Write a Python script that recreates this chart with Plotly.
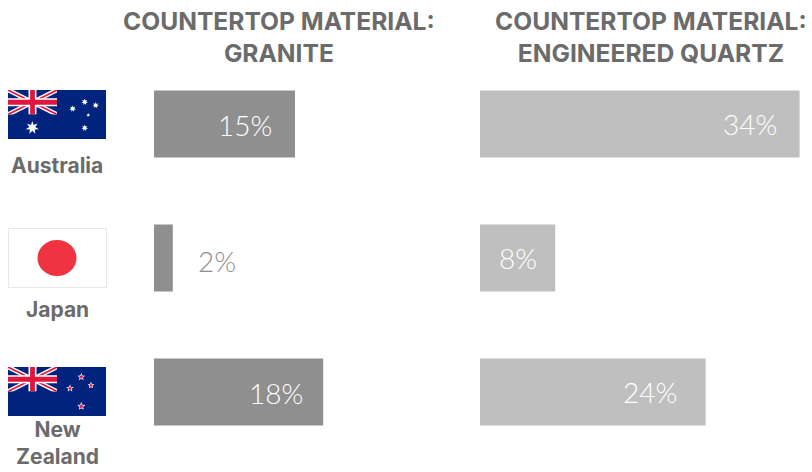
import base64
import math
import plotly.graph_objects as go

countries = ["Australia", "Japan", "New Zealand"]
country_lines = ["Australia", "Japan", "New<br>Zealand"]
granite = [15, 2, 18]
quartz = [34, 8, 24]
titles = ["COUNTERTOP MATERIAL:<br>GRANITE", "COUNTERTOP MATERIAL:<br>ENGINEERED QUARTZ"]

W, H = 812, 472
PX_PER_PCT = 9.4
GREY_DARK = "#8f8f8f"
GREY_LIGHT = "#bfbfbf"
TEXT = "#6b6b6b"
HEAD_FONT = "Inter, sans-serif"
NUM_FONT = "Lato Light, Lato, sans-serif"


def star(cx, cy, r, n, inner=0.45):
    pts = []
    for i in range(2 * n):
        rad = r if i % 2 == 0 else r * inner
        a = -math.pi / 2 + i * math.pi / n
        pts.append(f"{cx + rad * math.cos(a):.2f},{cy + rad * math.sin(a):.2f}")
    return " ".join(pts)


def union_jack():
    w, h = 49, 24.5
    return f"""
    <g><clipPath id="c"><rect width="{w}" height="{h}"/></clipPath><g clip-path="url(#c)">
    <rect width="{w}" height="{h}" fill="#00247d"/>
    <path d="M0,0L{w},{h}M{w},0L0,{h}" stroke="#fff" stroke-width="4.6"/>
    <path d="M0,0L{w},{h}M{w},0L0,{h}" stroke="#e0163f" stroke-width="1.6"/>
    <path d="M{w/2},0V{h}M0,{h/2}H{w}" stroke="#fff" stroke-width="8"/>
    <path d="M{w/2},0V{h}M0,{h/2}H{w}" stroke="#e0163f" stroke-width="4.8"/>
    </g></g>"""


def svg_uri(body, w, h):
    svg = (f'<svg xmlns="http://www.w3.org/2000/svg" width="{w*4}" height="{h*4}" '
           f'viewBox="0 0 {w} {h}">{body}</svg>')
    return "data:image/svg+xml;base64," + base64.b64encode(svg.encode()).decode()


def australia_flag():
    stars = f'<polygon fill="#fff" points="{star(24.3, 37.7, 6.8, 7)}"/>'
    for cx, cy, r in [(64.7, 18.7, 3.4), (76.7, 12, 3.4), (87.7, 15.3, 3.4),
                      (80.3, 25, 2.0), (76.7, 38, 3.4)]:
        stars += f'<polygon fill="#fff" points="{star(cx, cy, r, 7)}"/>'
    return svg_uri(f'<rect width="98" height="49" fill="#00247d"/>{union_jack()}{stars}', 98, 49)


def japan_flag():
    body = ('<rect x="0.5" y="0.5" width="98" height="59" fill="#fff" stroke="#e8e8e8"/>'
            '<ellipse cx="49" cy="30" rx="19.5" ry="18" fill="#ef3340"/>')
    return svg_uri(body, 99, 60)


def new_zealand_flag():
    stars = ""
    for cx, cy, r in [(73.3, 10, 3.9), (62, 21.3, 3.9), (83, 18.3, 3.5), (73.3, 39.3, 4.2)]:
        stars += f'<polygon fill="#fff" points="{star(cx, cy, r, 5)}"/>'
        stars += f'<polygon fill="#e0163f" points="{star(cx, cy, r * 0.62, 5)}"/>'
    return svg_uri(f'<rect width="98" height="49" fill="#00247d"/>{union_jack()}{stars}', 98, 49)


def fx(px):
    return px / W


def fy(px):
    return 1 - px / H


LEFT_X0, LEFT_X1 = 154, 470
RIGHT_X0, RIGHT_X1 = 480, 812
ROW_TOP, ROW_BOTTOM = 57, 459

fig = go.Figure()
fig.add_bar(x=granite, y=countries, orientation="h", marker=dict(color=GREY_DARK, line_width=0),
            xaxis="x", yaxis="y", hoverinfo="skip")
fig.add_bar(x=quartz, y=countries, orientation="h", marker=dict(color=GREY_LIGHT, line_width=0),
            xaxis="x2", yaxis="y2", hoverinfo="skip")

annotations = []


def value_label(xref, yref, value, country, shift, anchor, color, yshift=0):
    annotations.append(dict(x=value, y=country, xref=xref, yref=yref, text=f"{value}%",
                            showarrow=False, xanchor=anchor, xshift=shift, yshift=yshift,
                            font=dict(family=NUM_FONT, size=28, color=color)))


# Label offsets from each bar end, in pixels
granite_shift = [-21, 23, -18]
quartz_shift = [-21, -16, -27]

for value, country, shift in zip(granite, countries, granite_shift):
    if value < 5:
        value_label("x", "y", value, country, shift, "left", GREY_DARK, yshift=-3)
    else:
        value_label("x", "y", value, country, shift, "right", "#ffffff", yshift=-1)
for value, country, shift in zip(quartz, countries, quartz_shift):
    value_label("x2", "y2", value, country, shift, "right", "#ffffff")

for cx, text in zip([279, 651], titles):
    annotations.append(dict(x=fx(cx), y=fy(4), xref="paper", yref="paper", text=text, showarrow=False,
                            xanchor="center", yanchor="top", align="center",
                            font=dict(family=HEAD_FONT, size=24.6, color=TEXT, weight=700)))
for cy, text in zip([151, 295, 415], country_lines):
    annotations.append(dict(x=fx(57), y=fy(cy), xref="paper", yref="paper", text=text, showarrow=False,
                            xanchor="center", yanchor="top", align="center",
                            font=dict(family=HEAD_FONT, size=21, color=TEXT, weight=700)))

images = [
    dict(source=australia_flag(), x=fx(8), y=fy(90), sizex=98 / W, sizey=49 / H),
    dict(source=japan_flag(), x=fx(8), y=fy(228), sizex=99 / W, sizey=60 / H),
    dict(source=new_zealand_flag(), x=fx(8), y=fy(367), sizex=98 / W, sizey=49 / H),
]
for im in images:
    im.update(xref="paper", yref="paper", xanchor="left", yanchor="top", sizing="stretch", layer="above")

hidden = dict(visible=False, fixedrange=True)
y_axis = dict(hidden, type="category", categoryorder="array", categoryarray=countries,
              autorange="reversed", domain=[fy(ROW_BOTTOM), fy(ROW_TOP)])

fig.update_layout(
    width=W, height=H, autosize=False,
    margin=dict(l=0, r=0, t=0, b=0),
    paper_bgcolor="#ffffff", plot_bgcolor="#ffffff",
    showlegend=False, bargap=0.5,
    xaxis=dict(hidden, domain=[fx(LEFT_X0), fx(LEFT_X1)], range=[0, (LEFT_X1 - LEFT_X0) / PX_PER_PCT], anchor="y"),
    xaxis2=dict(hidden, domain=[fx(RIGHT_X0), fx(RIGHT_X1)], range=[0, (RIGHT_X1 - RIGHT_X0) / PX_PER_PCT], anchor="y2"),
    yaxis=dict(y_axis, anchor="x"),
    yaxis2=dict(y_axis, anchor="x2"),
    annotations=annotations,
    images=images,
)

fig.write_html("out.html", config=dict(displayModeBar=False))
